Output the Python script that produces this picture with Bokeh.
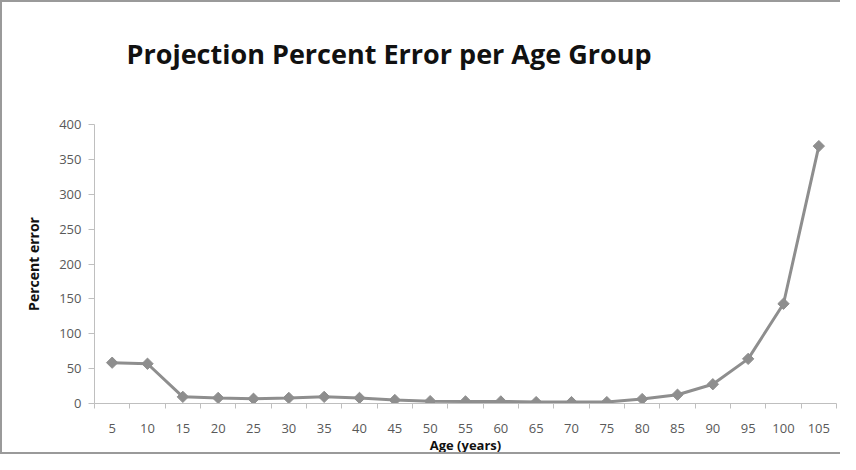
import math
from bokeh.plotting import figure
from bokeh.models import FixedTicker, Range1d, ColumnDataSource, Title
from bokeh.embed import file_html
from bokeh.resources import INLINE

title_text = "Projection Percent Error per Age Group"
ages = [5, 10, 15, 20, 25, 30, 35, 40, 45, 50, 55, 60, 65, 70, 75, 80, 85, 90, 95, 100, 105]
percent_error = [58.5, 57, 9.5, 8, 6.8, 8, 9.5, 8, 5, 3.4, 3, 3, 2, 2, 2, 6.4, 12.6, 27.6, 64, 143, 369]
y_ticks = [0, 50, 100, 150, 200, 250, 300, 350, 400]

src = ColumnDataSource(dict(age=ages, err=percent_error))

p = figure(width=840, height=454, output_backend="svg", toolbar_location=None,
           x_range=Range1d(2.5, 107.5), y_range=Range1d(0, 400),
           min_border_left=92, min_border_right=6, min_border_top=122, min_border_bottom=48,
           title=None)
p.styles = {"border-left": "2px solid #9a9a9a", "border-top": "2px solid #9a9a9a",
            "border-bottom": "2px solid #9a9a9a"}

# spacer panel nearest the frame, then the real title further out
p.add_layout(Title(text=" ", text_font_size="2px", standoff=49), "above")
p.add_layout(Title(text=title_text, text_font="Open Sans", text_font_style="bold",
                   text_font_size="27px", text_color="#111111", offset=32, standoff=0),
             "above")

p.outline_line_color = None
p.grid.grid_line_color = None
p.background_fill_color = "white"
p.border_fill_color = "white"

grey = "#BFBFBF"
lab = "#595959"

xa = p.xaxis[0]
xa.ticker = FixedTicker(ticks=ages, minor_ticks=[a - 2.5 for a in ages] + [107.5])
xa.major_tick_line_color = None
xa.major_tick_out = 0
xa.major_tick_in = 0
xa.minor_tick_line_color = grey
xa.minor_tick_out = 5
xa.minor_tick_in = 0
xa.axis_line_color = grey
xa.major_label_text_font = "Open Sans"
xa.major_label_text_font_size = "13px"
xa.major_label_text_color = lab
xa.major_label_standoff = 15
xa.axis_label = "Age (years)"
xa.axis_label_text_font = "Open Sans"
xa.axis_label_text_font_style = "bold"
xa.axis_label_text_font_size = "13px"
xa.axis_label_text_color = "#111111"
xa.axis_label_standoff = 0

ya = p.yaxis[0]
ya.ticker = FixedTicker(ticks=y_ticks)
ya.major_tick_line_color = grey
ya.major_tick_out = 6
ya.major_tick_in = 0
ya.minor_tick_line_color = None
ya.axis_line_color = grey
ya.major_label_text_font = "Open Sans"
ya.major_label_text_font_size = "13px"
ya.major_label_text_color = lab
ya.major_label_standoff = 7
ya.axis_label = "Percent error"
ya.axis_label_text_font = "Open Sans"
ya.axis_label_text_font_style = "bold"
ya.axis_label_text_font_size = "14px"
ya.axis_label_text_color = "#111111"
ya.axis_label_standoff = 13

line_col = "#8E8E8E"
p.line("age", "err", source=src, line_color=line_col, line_width=3)
p.scatter("age", "err", source=src, marker="square", size=8, angle=math.pi / 4,
          fill_color=line_col, line_color=line_col)

open("out.html", "w").write(file_html(p, INLINE))
